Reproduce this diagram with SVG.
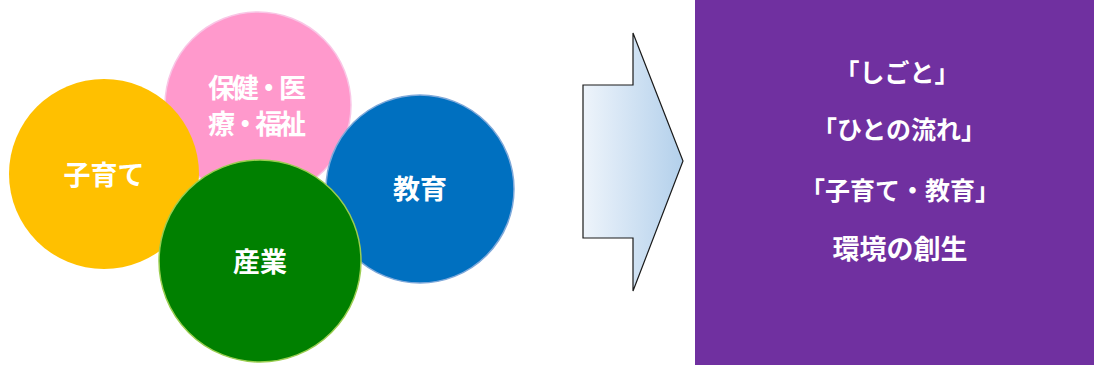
<svg xmlns="http://www.w3.org/2000/svg" width="1094" height="365" viewBox="0 0 1094 365">
<style>
.lbl{font-family:"Noto Sans CJK JP","Noto Sans CJK SC",sans-serif;font-weight:bold;fill:#ffffff;text-anchor:middle}
.c{font-size:27px}
.p{font-size:25px}
.q{font-size:27px}
</style>
<defs>
<linearGradient id="ag" x1="0" y1="0" x2="1" y2="0">
<stop offset="0" stop-color="#EEF4FB"/>
<stop offset="1" stop-color="#B3D0EB"/>
</linearGradient>
</defs>
<rect width="1094" height="365" fill="#ffffff"/>
<g id="node-hoken">
<circle cx="258" cy="105" r="93" fill="#FF99CC" stroke="#F9C6E6" stroke-width="1.5"/>
<text class="lbl c" x="257" y="98" textLength="98" lengthAdjust="spacing">保健・医</text>
<text class="lbl c" x="257" y="134" textLength="98" lengthAdjust="spacing">療・福祉</text>
</g>
<g id="node-kosodate">
<circle cx="104" cy="174" r="95" fill="#FFC000"/>
<text class="lbl c" x="104" y="185">子育て</text>
</g>
<g id="node-kyoiku">
<circle cx="420" cy="189" r="94" fill="#0070C0" stroke="#7FA9DA" stroke-width="1.5"/>
<text class="lbl c" x="420" y="199">教育</text>
</g>
<g id="node-sangyo">
<circle cx="260" cy="261" r="101" fill="#008000" stroke="#9ACD50" stroke-width="1.5"/>
<text class="lbl c" x="260" y="272">産業</text>
</g>
<g id="connectors">
<polygon points="583,85 633,85 633,33 683,161 633,291 633,238 583,238" fill="url(#ag)" stroke="#1a1a1a" stroke-width="1.2" stroke-linejoin="miter"/>
</g>
<g id="node-result">
<rect x="695" y="0" width="399" height="365" fill="#7030A0"/>
<text class="lbl p" x="897" y="82">「しごと」</text>
<text class="lbl p" x="899" y="139">「ひとの流れ」</text>
<text class="lbl p" x="900" y="200">「子育て・教育」</text>
<text class="lbl q" x="900" y="259">環境の創生</text>
</g>
</svg>
